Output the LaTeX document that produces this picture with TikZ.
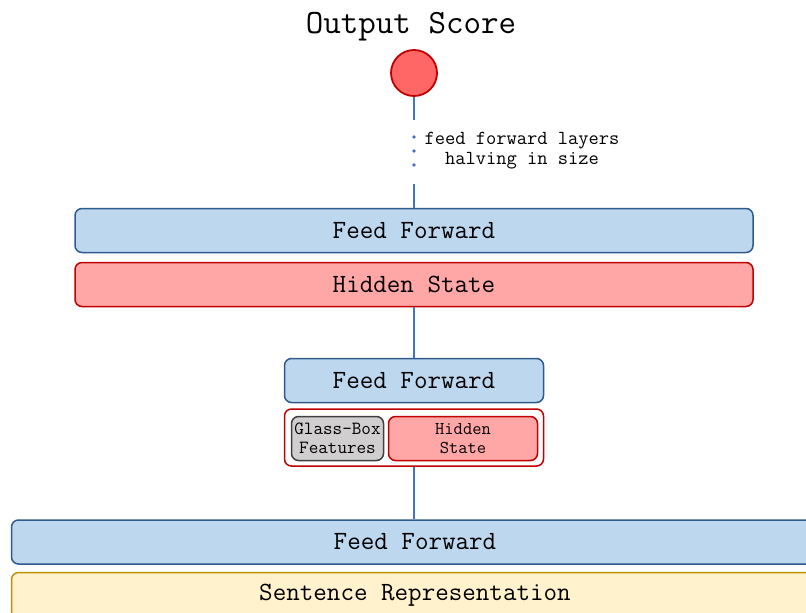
\documentclass[tikz,border=0pt]{standalone}
\renewcommand*{\familydefault}{\ttdefault}
\usetikzlibrary{positioning}
\definecolor{ffblue}{HTML}{BDD7EE}
\definecolor{ffedge}{HTML}{2E5B8C}
\definecolor{hsred}{HTML}{FFA6A6}
\definecolor{hsedge}{HTML}{C00000}
\definecolor{gbgray}{HTML}{D0CECE}
\definecolor{gbedge}{HTML}{404040}
\definecolor{srcream}{HTML}{FFF2CC}
\definecolor{sredge}{HTML}{BF9000}
\definecolor{linkblue}{HTML}{4472C4}
\definecolor{scorered}{HTML}{FF6666}

\begin{document}
\begin{tikzpicture}[x=1pt,y=-1pt,
    block/.style={draw, rounded corners=7pt, line width=1.5pt,
        minimum height=44pt, inner sep=0pt,
        font=\fontsize{26.3}{30}\selectfont},
    ffblock/.style={block, fill=ffblue, draw=ffedge},
    hsblock/.style={block, fill=hsred, draw=hsedge},
    link/.style={linkblue, line width=2pt}]
\useasboundingbox (0,0) rectangle (806,613);

% Output
\node[font=\fontsize{34}{38}\selectfont] (title) at (411,27) {Output Score};
\node[circle, draw=hsedge, fill=scorered, line width=1.8pt,
    minimum size=46pt, inner sep=0pt
    ] (score) at (414,73) {};

% Top layers
\node[ffblock,
    minimum width=678pt
    ] (ff1) at (414,230.5) {Feed Forward};
\node[hsblock,
    minimum width=678pt
    ] (hs1) at (414,284.5) {Hidden State};

% Middle layers
\node[ffblock,
    minimum width=259pt
    ] (ff2) at (414,380.5) {Feed Forward};
\node[draw=hsedge, rounded corners=7pt, line width=1.5pt,
    minimum width=259pt, minimum height=57pt,
    below=5pt of ff2
    ] (concat) {};
\node[block, fill=gbgray, draw=gbedge,
    minimum width=92pt, minimum height=44pt,
    font=\fontsize{18.6}{19}\selectfont, align=center
    ] (glass) at (337.5,438.5) {Glass-Box\\Features};
\node[hsblock,
    minimum width=149pt, minimum height=44pt,
    font=\fontsize{18}{19}\selectfont, align=center
    ] (hs2) at (463,438.5) {Hidden\\State};

% Bottom layers
\node[ffblock,
    minimum width=807pt
    ] (ff3) at (415,542) {Feed Forward};
\node[block, fill=srcream, draw=sredge,
    minimum width=807pt, minimum height=46pt
    ] (sent) at (415,595.5) {Sentence Representation};

% Connections
\draw[link] (score.south) -- ++(0,23) coordinate (dots);
\foreach \y in {137,151,165}
    \fill[linkblue] (414,\y) circle (1.8pt);
\draw[link] (ff1.north) -- ++(0,-24);
\node[font=\fontsize{19.9}{20}\selectfont, align=center] (note) at (522,150.5)
    {feed forward layers\\halving in size};

\draw[link] (hs1.south) -- (ff2.north);
\draw[link] (concat.south) -- (ff3.north -| concat.south);
\end{tikzpicture}
\end{document}
